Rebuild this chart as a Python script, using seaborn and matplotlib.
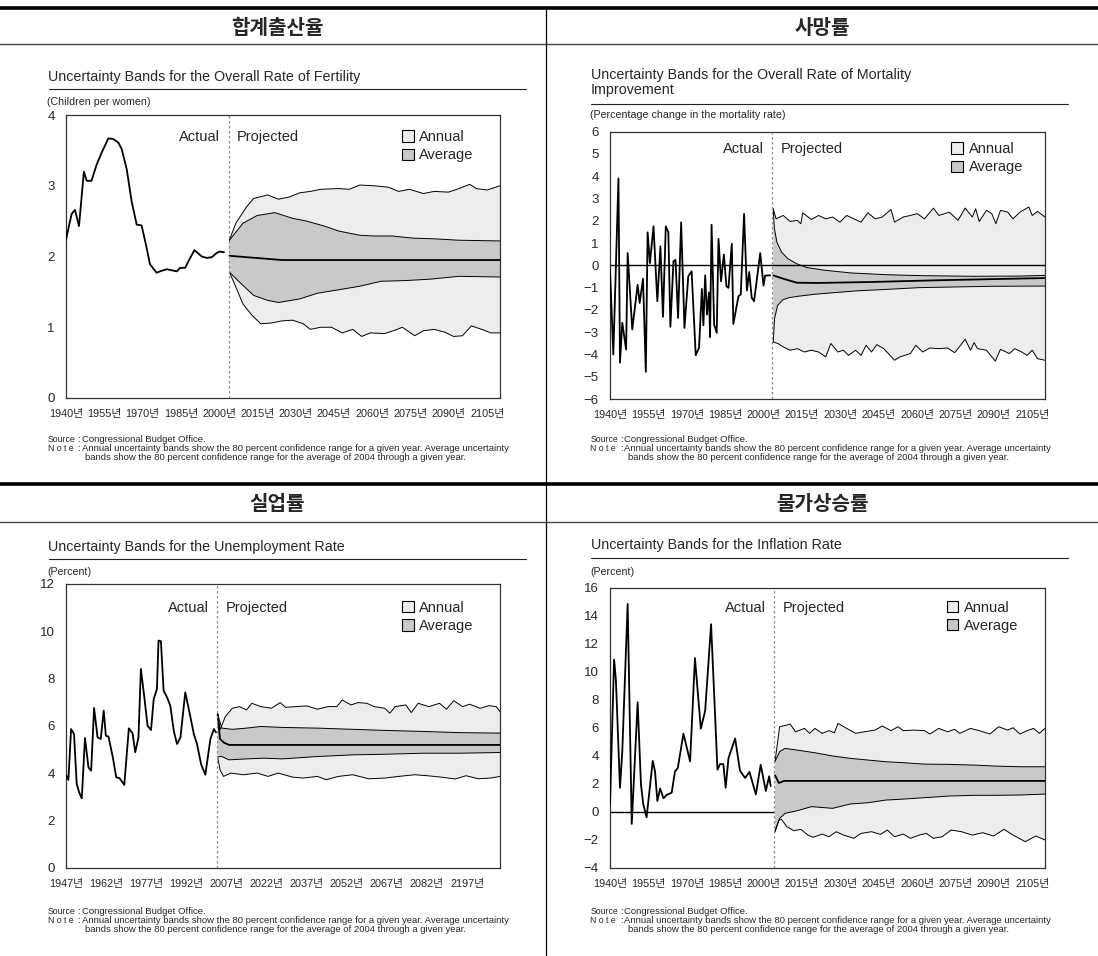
import numpy as np
import matplotlib
matplotlib.use("Agg")
import matplotlib.pyplot as plt
from matplotlib.lines import Line2D
from matplotlib.patches import Patch
import seaborn as sns

sns.set_style("white")
plt.rcParams['font.family'] = ['Liberation Sans', 'Noto Sans CJK KR']
plt.rcParams['axes.unicode_minus'] = True

W, H = 1098, 956
ANNUAL = '#ededed'
AVERAGE = '#c9c9c9'

# ---- 합계출산율 (fertility) ----
fert_actual = [(1940, 2.24), (1942.2, 2.60), (1943.5, 2.66), (1945.1, 2.43), (1947.0, 3.20), (1948.1, 3.07),
               (1950, 3.07), (1952, 3.30), (1954, 3.47), (1956.6, 3.67), (1958.5, 3.66), (1960.5, 3.61),
               (1961.8, 3.52), (1963.8, 3.23), (1965.7, 2.78), (1967.7, 2.45), (1969.6, 2.44), (1971.3, 2.17),
               (1972.9, 1.89), (1975.5, 1.77), (1976.8, 1.79), (1979.4, 1.82), (1983.4, 1.79), (1984.7, 1.84),
               (1986.7, 1.84), (1987.9, 1.93), (1990.3, 2.09), (1993.2, 2.00), (1995.1, 1.98), (1997.1, 1.99),
               (1999, 2.05), (2000.3, 2.07), (2001.9, 2.06)]
fert_median = [(2004, 2.01), (2024.6, 1.95), (2110, 1.95)]
fert_ann_hi = [(2004, 2.23), (2006.5, 2.47), (2010.7, 2.70), (2013.5, 2.82), (2019, 2.87), (2023.2, 2.81),
               (2027.4, 2.84), (2031.5, 2.90), (2035.7, 2.92), (2039.8, 2.95), (2046.8, 2.96), (2050.9, 2.95),
               (2055.1, 3.01), (2060.6, 3.00), (2066.2, 2.98), (2070.3, 2.92), (2074.5, 2.95), (2080, 2.89),
               (2084.2, 2.92), (2089.8, 2.91), (2093.9, 2.96), (2098.1, 3.02), (2100.8, 2.96), (2105, 2.94),
               (2110, 3.00)]
fert_ann_lo = [(2004, 1.78), (2006.5, 1.57), (2009.3, 1.33), (2012.8, 1.17), (2016.3, 1.05), (2020.4, 1.06),
               (2024.6, 1.09), (2028.7, 1.10), (2032.9, 1.05), (2035.7, 0.97), (2039.8, 1.00), (2044, 1.00),
               (2048.2, 0.92), (2052.3, 0.97), (2055.8, 0.87), (2059.2, 0.92), (2064.8, 0.91), (2069, 0.96),
               (2071.7, 1.00), (2076.6, 0.88), (2080, 0.95), (2084.2, 0.97), (2088.4, 0.93), (2091.8, 0.87),
               (2095.3, 0.88), (2098.8, 1.02), (2103.6, 0.96), (2106.4, 0.92), (2110, 0.92)]
fert_avg_hi = [(2004, 2.23), (2009.3, 2.47), (2014.9, 2.58), (2021.8, 2.62), (2028.7, 2.54), (2034.3, 2.50),
               (2041.2, 2.43), (2046.8, 2.36), (2055.1, 2.30), (2060.6, 2.29), (2067.6, 2.29), (2075.9, 2.26),
               (2084.2, 2.25), (2093.9, 2.23), (2110, 2.22)]
fert_avg_lo = [(2004, 1.78), (2007.9, 1.64), (2013.5, 1.45), (2019, 1.38), (2023.2, 1.35), (2031.5, 1.40),
               (2038.4, 1.48), (2046.8, 1.53), (2055.1, 1.58), (2063.4, 1.65), (2073.1, 1.66), (2082.8, 1.68),
               (2093.9, 1.72), (2110, 1.71)]

# ---- 사망률 (mortality improvement) ----
mort_actual = [(1940, -0.19), (1941.3, -4.0), (1943.3, 3.9), (1943.9, -4.37), (1944.8, -2.58), (1946.3, -3.78),
               (1946.9, 0.55), (1948.7, -2.88), (1950.8, -0.87), (1951.6, -1.69), (1952.9, -0.6), (1954.0, -4.78),
               (1954.7, 1.48), (1955.6, 0.1), (1957.0, 1.75), (1958.5, -1.61), (1959.7, 0.85), (1960.7, -2.31),
               (1961.8, 1.75), (1962.8, 1.49), (1963.6, -2.76), (1964.8, 0.18), (1965.6, 0.25), (1966.6, -2.36),
               (1967.8, 1.93), (1969.1, -2.81), (1970.6, -0.49), (1971.9, -0.27), (1973.5, -4.03), (1974.8, -3.7),
               (1975.9, -1.06), (1976.5, -2.69), (1977.2, -0.45), (1977.9, -2.21), (1978.7, -1.21), (1979.1, -3.22),
               (1979.7, 1.82), (1980.7, -2.66), (1981.7, -3.03), (1982.4, 1.19), (1983.4, -0.72), (1984.5, 0.48),
               (1985.5, -0.94), (1986.3, -1.01), (1987.6, 0.97), (1988.2, -2.63), (1990.2, -1.39), (1991.1, -1.31),
               (1992.4, 2.31), (1993.5, -1.13), (1994.4, -0.3), (1995.4, -1.46), (1996.3, -1.61), (1998.7, 0.55),
               (2000.0, -0.91), (2000.6, -0.46), (2002.6, -0.45)]
mort_median = [(2003.8, -0.45), (2007.7, -0.6), (2013, -0.78), (2021, -0.79), (2041, -0.75), (2068, -0.67),
               (2110, -0.57)]
mort_ann_hi = [(2003.8, 2.54), (2004.9, 2.09), (2007.7, 2.24), (2010.4, 1.97), (2013.2, 2.02), (2014.6, 1.87),
               (2015.3, 2.36), (2018.7, 2.06), (2021.5, 2.24), (2024.3, 2.09), (2027, 2.17), (2029.8, 1.94),
               (2032.5, 2.24), (2035.3, 2.09), (2038.1, 1.94), (2040.8, 2.36), (2043.6, 2.09), (2046.4, 2.17),
               (2049.8, 2.51), (2051.2, 1.94), (2054.6, 2.17), (2057.4, 2.24), (2060.1, 2.32), (2062.9, 2.09),
               (2066.4, 2.57), (2068.5, 2.24), (2072.6, 2.39), (2076, 2.02), (2078.8, 2.57), (2081.6, 2.17),
               (2082.9, 2.54), (2084.3, 1.97), (2087.1, 2.47), (2089.2, 2.32), (2090.8, 1.87), (2092.6, 2.47),
               (2095.4, 2.39), (2097.5, 2.09), (2100.2, 2.39), (2103.7, 2.62), (2105, 2.24), (2107.1, 2.42),
               (2110, 2.17)]
mort_ann_lo = [(2003.8, -3.44), (2005.6, -3.51), (2007.7, -3.66), (2010.4, -3.81), (2013.2, -3.74), (2016, -3.89),
               (2018.7, -3.81), (2021.5, -3.89), (2024.3, -4.11), (2026.3, -3.51), (2029.1, -3.89), (2031.2, -3.81),
               (2033.2, -4.04), (2036, -3.81), (2038.1, -4.04), (2040.1, -3.59), (2042.2, -3.89), (2044.3, -3.56),
               (2047, -3.74), (2051.2, -4.26), (2053.3, -4.11), (2057.4, -3.96), (2059.5, -3.59), (2062.2, -3.89),
               (2065, -3.71), (2068.5, -3.74), (2071.9, -3.71), (2074.7, -3.92), (2078.8, -3.32), (2080.9, -3.81),
               (2082.3, -3.47), (2083.6, -3.74), (2087.1, -3.81), (2090.6, -4.30), (2092.6, -3.77), (2096.1, -3.96),
               (2098.2, -3.74), (2100.9, -3.89), (2103, -4.04), (2105, -3.81), (2107.1, -4.19), (2110, -4.26)]
mort_avg_hi = [(2003.8, 2.54), (2004.2, 1.7), (2005.2, 1.05), (2007, 0.6), (2009.5, 0.3), (2013, 0.07),
               (2017, -0.1), (2024, -0.22), (2034, -0.34), (2048, -0.42), (2061, -0.46), (2082, -0.49),
               (2100, -0.48), (2110, -0.45)]
mort_avg_lo = [(2003.8, -3.44), (2004.3, -2.4), (2005.5, -1.8), (2007.5, -1.55), (2010, -1.45), (2014, -1.38),
               (2020, -1.30), (2027, -1.23), (2037, -1.14), (2048, -1.08), (2061, -1.0), (2075, -0.97),
               (2089, -0.94), (2110, -0.93)]

# ---- 실업률 (unemployment) ----
unemp_actual = [(1947, 3.93), (1947.9, 3.72), (1948.9, 5.87), (1950, 5.66), (1951, 3.55), (1951.9, 3.2),
                (1952.9, 2.94), (1954.1, 5.49), (1955.4, 4.25), (1956.4, 4.11), (1957.5, 6.76), (1958.8, 5.52),
                (1960, 5.45), (1961.1, 6.65), (1961.9, 5.59), (1962.9, 5.55), (1964.5, 4.68), (1965.8, 3.83),
                (1967, 3.80), (1968.8, 3.51), (1970.5, 5.90), (1971.9, 5.69), (1972.9, 4.89), (1974.1, 5.52),
                (1975, 8.41), (1976.3, 7.21), (1977.5, 6.01), (1978.8, 5.83), (1979.8, 7.14), (1981, 7.56),
                (1981.6, 9.61), (1982.5, 9.58), (1983.5, 7.49), (1984.8, 7.21), (1986, 6.86), (1987.3, 5.80),
                (1988.5, 5.24), (1989.8, 5.52), (1991.6, 7.42), (1993.3, 6.51), (1994.8, 5.66), (1996, 5.24),
                (1997.5, 4.39), (1999.1, 3.94), (2001, 5.45), (2002.3, 5.87), (2003.1, 5.73)]
unemp_median = [(2003.7, 6.5), (2004.6, 5.45), (2006, 5.3), (2008, 5.2), (2109.3, 5.2)]
unemp_ann_hi = [(2003.7, 6.54), (2004.6, 5.84), (2006.6, 6.40), (2009.2, 6.75), (2011.9, 6.82), (2014.5, 6.68),
                (2016.5, 6.96), (2019.8, 6.82), (2023.8, 6.75), (2027.1, 6.99), (2029.1, 6.79), (2033.1, 6.82),
                (2037, 6.85), (2041, 6.71), (2045, 6.82), (2048.3, 6.82), (2050.3, 7.10), (2053.6, 6.89),
                (2056.2, 6.99), (2059.5, 6.96), (2062.2, 6.82), (2066.2, 6.75), (2068.1, 6.54), (2070.1, 6.82),
                (2074.1, 6.89), (2076.1, 6.57), (2078.7, 6.96), (2082.7, 6.82), (2086.7, 6.96), (2089.3, 6.71),
                (2092, 7.07), (2095.3, 6.82), (2097.9, 6.92), (2101.9, 6.75), (2105.2, 6.86), (2107.9, 6.82),
                (2109.3, 6.61)]
unemp_ann_lo = [(2003.7, 4.7), (2004.6, 4.15), (2005.9, 3.87), (2008.6, 4.01), (2013.2, 3.94), (2018.5, 4.01),
                (2022.5, 3.87), (2026.4, 4.01), (2031.7, 3.84), (2035.7, 3.80), (2041, 3.87), (2044.3, 3.73),
                (2048.9, 3.87), (2054.2, 3.94), (2060.2, 3.77), (2066.2, 3.80), (2071.4, 3.87), (2077.4, 3.94),
                (2082, 3.90), (2087.3, 3.84), (2092.6, 3.76), (2096.6, 3.90), (2101.2, 3.77), (2105.9, 3.80),
                (2109.3, 3.87)]
unemp_avg_hi = [(2003.7, 6.5), (2005.3, 5.91), (2009.2, 5.86), (2014.5, 5.91), (2019.8, 5.98), (2027.8, 5.94),
                (2041, 5.91), (2054.2, 5.86), (2067.5, 5.81), (2080.7, 5.77), (2094, 5.72), (2109.3, 5.70)]
unemp_avg_lo = [(2003.7, 4.7), (2005.3, 4.71), (2007.9, 4.57), (2014.5, 4.61), (2021.1, 4.64), (2027.8, 4.61),
                (2041, 4.71), (2054.2, 4.78), (2067.5, 4.81), (2080.7, 4.85), (2094, 4.85), (2109.3, 4.88)]

# ---- 물가상승률 (inflation) ----
infl_actual = [(1940, 0.54), (1941.6, 10.86), (1942.3, 9.45), (1943.9, 1.71), (1944.8, 4.29), (1946.9, 14.84),
               (1948.5, -0.87), (1950.8, 7.81), (1952.1, 1.95), (1953, 0.54), (1954.3, -0.40), (1956.7, 3.63),
               (1957.6, 2.88), (1958.5, 0.77), (1959.6, 1.66), (1960.9, 0.96), (1962.2, 1.20), (1964.1, 1.36),
               (1965.4, 2.88), (1966.5, 3.12), (1968.7, 5.58), (1971.3, 3.59), (1973.2, 10.97), (1975.5, 5.93),
               (1977.2, 7.22), (1979.5, 13.39), (1982, 3.00), (1983, 3.40), (1984.3, 3.40), (1985.2, 1.71),
               (1986.3, 3.82), (1988.9, 5.23), (1990.8, 2.93), (1992.8, 2.41), (1994.5, 2.84), (1997, 1.24),
               (1998.9, 3.35), (2000.9, 1.48), (2002.2, 2.53), (2002.8, 1.83)]
infl_median = [(2004.5, 2.6), (2006.0, 2.05), (2008, 2.2), (2110, 2.2)]
infl_ann_hi = [(2004.5, 3.6), (2006.3, 6.07), (2009.1, 6.19), (2010.4, 6.26), (2012.5, 5.71), (2016, 5.95),
               (2018, 5.60), (2020.1, 5.95), (2022.9, 5.60), (2025.6, 5.79), (2027.7, 5.64), (2029.1, 6.31),
               (2032.5, 5.95), (2036, 5.60), (2039.4, 5.71), (2043.6, 5.83), (2046.4, 6.12), (2049.8, 5.79),
               (2052.6, 6.07), (2054.6, 5.79), (2058.8, 5.83), (2062.9, 5.79), (2065, 5.55), (2068.5, 5.95),
               (2071.9, 5.71), (2074.7, 5.88), (2076.7, 5.60), (2080.9, 5.95), (2084.3, 5.79), (2088.5, 5.55),
               (2091.9, 6.07), (2095.4, 5.83), (2097.5, 6.00), (2100.2, 5.55), (2103, 5.79), (2105.5, 5.95),
               (2107.8, 5.60), (2110, 5.95)]
infl_ann_lo = [(2004.5, -1.45), (2006, -0.6), (2007, -0.55), (2009.1, -1.07), (2011.8, -1.36), (2014.6, -1.26),
               (2017.3, -1.67), (2019.4, -1.83), (2022.9, -1.60), (2025.6, -1.79), (2028.4, -1.43), (2031.2, -1.67),
               (2035.3, -1.90), (2038.1, -1.55), (2042.2, -1.43), (2045.7, -1.62), (2048.4, -1.31), (2051.2, -1.79),
               (2054.6, -1.60), (2057.4, -1.90), (2060.9, -1.67), (2063.6, -1.55), (2066.4, -1.90), (2069.8, -1.79),
               (2073.3, -1.31), (2077.4, -1.43), (2081.6, -1.67), (2085.7, -1.50), (2089.9, -1.74), (2094.0, -1.26),
               (2097.5, -1.67), (2102.3, -2.14), (2106.4, -1.74), (2110, -2.02)]
infl_avg_hi = [(2004.5, 3.6), (2006.3, 4.29), (2008.4, 4.52), (2013.2, 4.40), (2020.1, 4.21), (2027, 3.98),
               (2033.9, 3.81), (2040.8, 3.69), (2047.7, 3.57), (2054.6, 3.50), (2062.9, 3.40), (2072.6, 3.38),
               (2082.3, 3.33), (2090.6, 3.26), (2100.2, 3.21), (2110, 3.21)]
infl_avg_lo = [(2004.5, -1.35), (2006.3, -0.48), (2008.4, -0.12), (2013.2, 0.07), (2018.7, 0.36), (2027, 0.24),
               (2033.9, 0.55), (2040.8, 0.64), (2047.7, 0.83), (2054.6, 0.90), (2062.9, 1.00), (2072.6, 1.12),
               (2082.3, 1.17), (2090.6, 1.17), (2100.2, 1.19), (2110, 1.26)]

years_a = [1940, 1955, 1970, 1985, 2000, 2015, 2030, 2045, 2060, 2075, 2090, 2105]
labels_a = [f"{y}년" for y in years_a]
years_b = [1947, 1962, 1977, 1992, 2007, 2022, 2037, 2052, 2067, 2082, 2097]
labels_b = ["1947년", "1962년", "1977년", "1992년", "2007년", "2022년", "2037년", "2052년",
            "2067년", "2082년", "2197년"]

headers = ["합계출산율", "사망률", "실업률", "물가상승률"]
titles = ["Uncertainty Bands for the Overall Rate of Fertility",
          "Uncertainty Bands for the Overall Rate of Mortality\nImprovement",
          "Uncertainty Bands for the Unemployment Rate",
          "Uncertainty Bands for the Inflation Rate"]
units = ["(Children per women)", "(Percentage change in the mortality rate)", "(Percent)", "(Percent)"]


def split(pts):
    a = np.array(pts, dtype=float)
    return a[:, 0], a[:, 1]


def fx(x):
    return x / W


def fy(y):
    return 1 - y / H


fig = plt.figure(figsize=(W / 100, H / 100), dpi=100)


def axes_at(l, t, r, b):
    return fig.add_axes([l / W, 1 - b / H, (r - l) / W, (b - t) / H])


def draw_panel(ax, actual, median, ann_hi, ann_lo, avg_hi, avg_lo, xlim, ylim, yticks,
               xticks, xlabels, proj, text_dy, leg_xy, zero=None):
    hx, hy = split(ann_hi)
    lx, ly = split(ann_lo)
    ax.fill(np.r_[hx, lx[::-1]], np.r_[hy, ly[::-1]], color=ANNUAL, lw=0, zorder=1)
    hx2, hy2 = split(avg_hi)
    lx2, ly2 = split(avg_lo)
    ax.fill(np.r_[hx2, lx2[::-1]], np.r_[hy2, ly2[::-1]], color=AVERAGE, lw=0, zorder=2)
    for pts in (ann_hi, ann_lo, avg_hi, avg_lo):
        x, y = split(pts)
        sns.lineplot(x=x, y=y, ax=ax, color='black', lw=0.7, estimator=None, sort=False, zorder=3)
    for pts in (median, actual):
        x, y = split(pts)
        sns.lineplot(x=x, y=y, ax=ax, color='black', lw=1.3, estimator=None, sort=False, zorder=4)
    if zero == 'top':
        ax.axhline(0, color='black', lw=1.0, zorder=5)
    elif zero == 'under':
        ax.axhline(0, color='black', lw=1.0, zorder=0.5)
    ax.axvline(proj, color='#8c8c8c', lw=0.9, ls=(0, (2, 2)), zorder=6)

    ax.set_xlim(*xlim)
    ax.set_ylim(*ylim)
    ax.set_yticks(yticks)
    ax.set_xticks(xticks)
    ax.set_xticklabels(xlabels)
    ax.set_xlabel('')
    ax.set_ylabel('')
    ax.tick_params(axis='both', direction='in', length=5, width=0.8, color='#222222')
    ax.tick_params(axis='x', labelsize=7.8, pad=8)
    ax.tick_params(axis='y', labelsize=9.5, pad=8)
    for s in ax.spines.values():
        s.set_linewidth(0.9)
        s.set_color('#333333')

    ax.annotate('Actual', xy=(proj, 1), xycoords=('data', 'axes fraction'),
                xytext=(-6, -text_dy * 0.72), textcoords='offset points',
                ha='right', va='center', fontsize=10.5)
    ax.annotate('Projected', xy=(proj, 1), xycoords=('data', 'axes fraction'),
                xytext=(6, -text_dy * 0.72), textcoords='offset points',
                ha='left', va='center', fontsize=10.5)
    handles = [Patch(facecolor=ANNUAL, edgecolor='black', lw=0.8, label='Annual'),
               Patch(facecolor=AVERAGE, edgecolor='black', lw=0.8, label='Average')]
    ax.legend(handles=handles, loc='upper left', bbox_to_anchor=leg_xy, frameon=False,
              fontsize=10.5, borderpad=0, borderaxespad=0, handlelength=0.8, handleheight=0.8,
              handletextpad=0.4, labelspacing=0.3)


ax1 = axes_at(66, 115, 500, 398)
draw_panel(ax1, fert_actual, fert_median, fert_ann_hi, fert_ann_lo, fert_avg_hi, fert_avg_lo,
           (1940, 2110), (0, 4), [0, 1, 2, 3, 4], years_a, labels_a, 2003.7, 22, (0.774, 0.947))

ax2 = axes_at(610, 131.7, 1045, 399)
draw_panel(ax2, mort_actual, mort_median, mort_ann_hi, mort_ann_lo, mort_avg_hi, mort_avg_lo,
           (1940, 2110), (-6, 6), list(range(-6, 7)), years_a, labels_a, 2003.5, 17.3, (0.784, 0.961),
           zero='top')

ax3 = axes_at(66, 584, 500, 868)
draw_panel(ax3, unemp_actual, unemp_median, unemp_ann_hi, unemp_ann_lo, unemp_avg_hi, unemp_avg_lo,
           (1947, 2109.3), (0, 12), [0, 2, 4, 6, 8, 10, 12], years_b, labels_b, 2003.5, 23.7, (0.774, 0.941))

ax4 = axes_at(610, 587.7, 1045, 867.7)
draw_panel(ax4, infl_actual, infl_median, infl_ann_hi, infl_ann_lo, infl_avg_hi, infl_avg_lo,
           (1940, 2110), (-4, 16), list(range(-4, 17, 2)), years_a, labels_a, 2004.2, 20, (0.774, 0.954),
           zero='under')

# frame lines of the page
def hline(y, x0, x1, lw, color='black'):
    fig.add_artist(Line2D([fx(x0), fx(x1)], [fy(y), fy(y)], transform=fig.transFigure, lw=lw, color=color))


hline(8, 0, W, 2.6)
hline(44, 0, W, 1.0, '#444444')
hline(484, 0, W, 2.6)
hline(522, 0, W, 1.0, '#444444')
fig.add_artist(Line2D([fx(546), fx(546)], [fy(9), fy(H)], transform=fig.transFigure, lw=0.9, color='black'))

# headers
for (cx, cy), txt in zip([(277, 27), (822, 27), (277, 504), (822, 504)], headers):
    fig.text(fx(cx), fy(cy), txt, ha='center', va='center', fontsize=14.5, fontweight='bold',
             family=['Noto Sans CJK KR'])

# chart titles, rules and units
fig.text(fx(48), fy(77), titles[0], ha='left', va='center', fontsize=10.3)
hline(89, 49, 526, 0.8, '#222222')
fig.text(fx(47), fy(102), units[0], ha='left', va='center', fontsize=7.7)

fig.text(fx(591), fy(82.5), titles[1], ha='left', va='center', fontsize=10.3, linespacing=1.15)
hline(104, 591, 1068, 0.8, '#222222')
fig.text(fx(590), fy(115.5), units[1], ha='left', va='center', fontsize=7.7)

fig.text(fx(48), fy(547), titles[2], ha='left', va='center', fontsize=10.3)
hline(559, 49, 526, 0.8, '#222222')
fig.text(fx(47), fy(572), units[2], ha='left', va='center', fontsize=7.7)

fig.text(fx(591), fy(545), titles[3], ha='left', va='center', fontsize=10.3)
hline(558, 591, 1068, 0.8, '#222222')
fig.text(fx(590), fy(572), units[3], ha='left', va='center', fontsize=7.7)

# source / note blocks
note1 = "Annual uncertainty bands show the 80 percent confidence range for a given year. Average uncertainty"
note2 = "bands show the 80 percent confidence range for the average of 2004 through a given year."


def notes(x0, y0):
    fs = 6.8
    fl = 6.3
    fig.text(fx(x0 - 1.5), fy(y0), "Source", fontsize=fl, va='center')
    fig.text(fx(x0 + 28), fy(y0), ":", fontsize=fs, va='center')
    fig.text(fx(x0 + 32.5), fy(y0), "Congressional Budget Office.", fontsize=fs, va='center')
    fig.text(fx(x0 - 1.5), fy(y0 + 9.5), "N o t e", fontsize=fl, va='center')
    fig.text(fx(x0 + 28), fy(y0 + 9.5), ":", fontsize=fs, va='center')
    fig.text(fx(x0 + 32.5), fy(y0 + 9.5), note1, fontsize=fs, va='center')
    fig.text(fx(x0 + 35.5), fy(y0 + 19), note2, fontsize=fs, va='center')


notes(49.5, 439)
notes(592, 439)
notes(49.5, 911)
notes(592, 911)

fig.savefig("out.png", dpi=100)
